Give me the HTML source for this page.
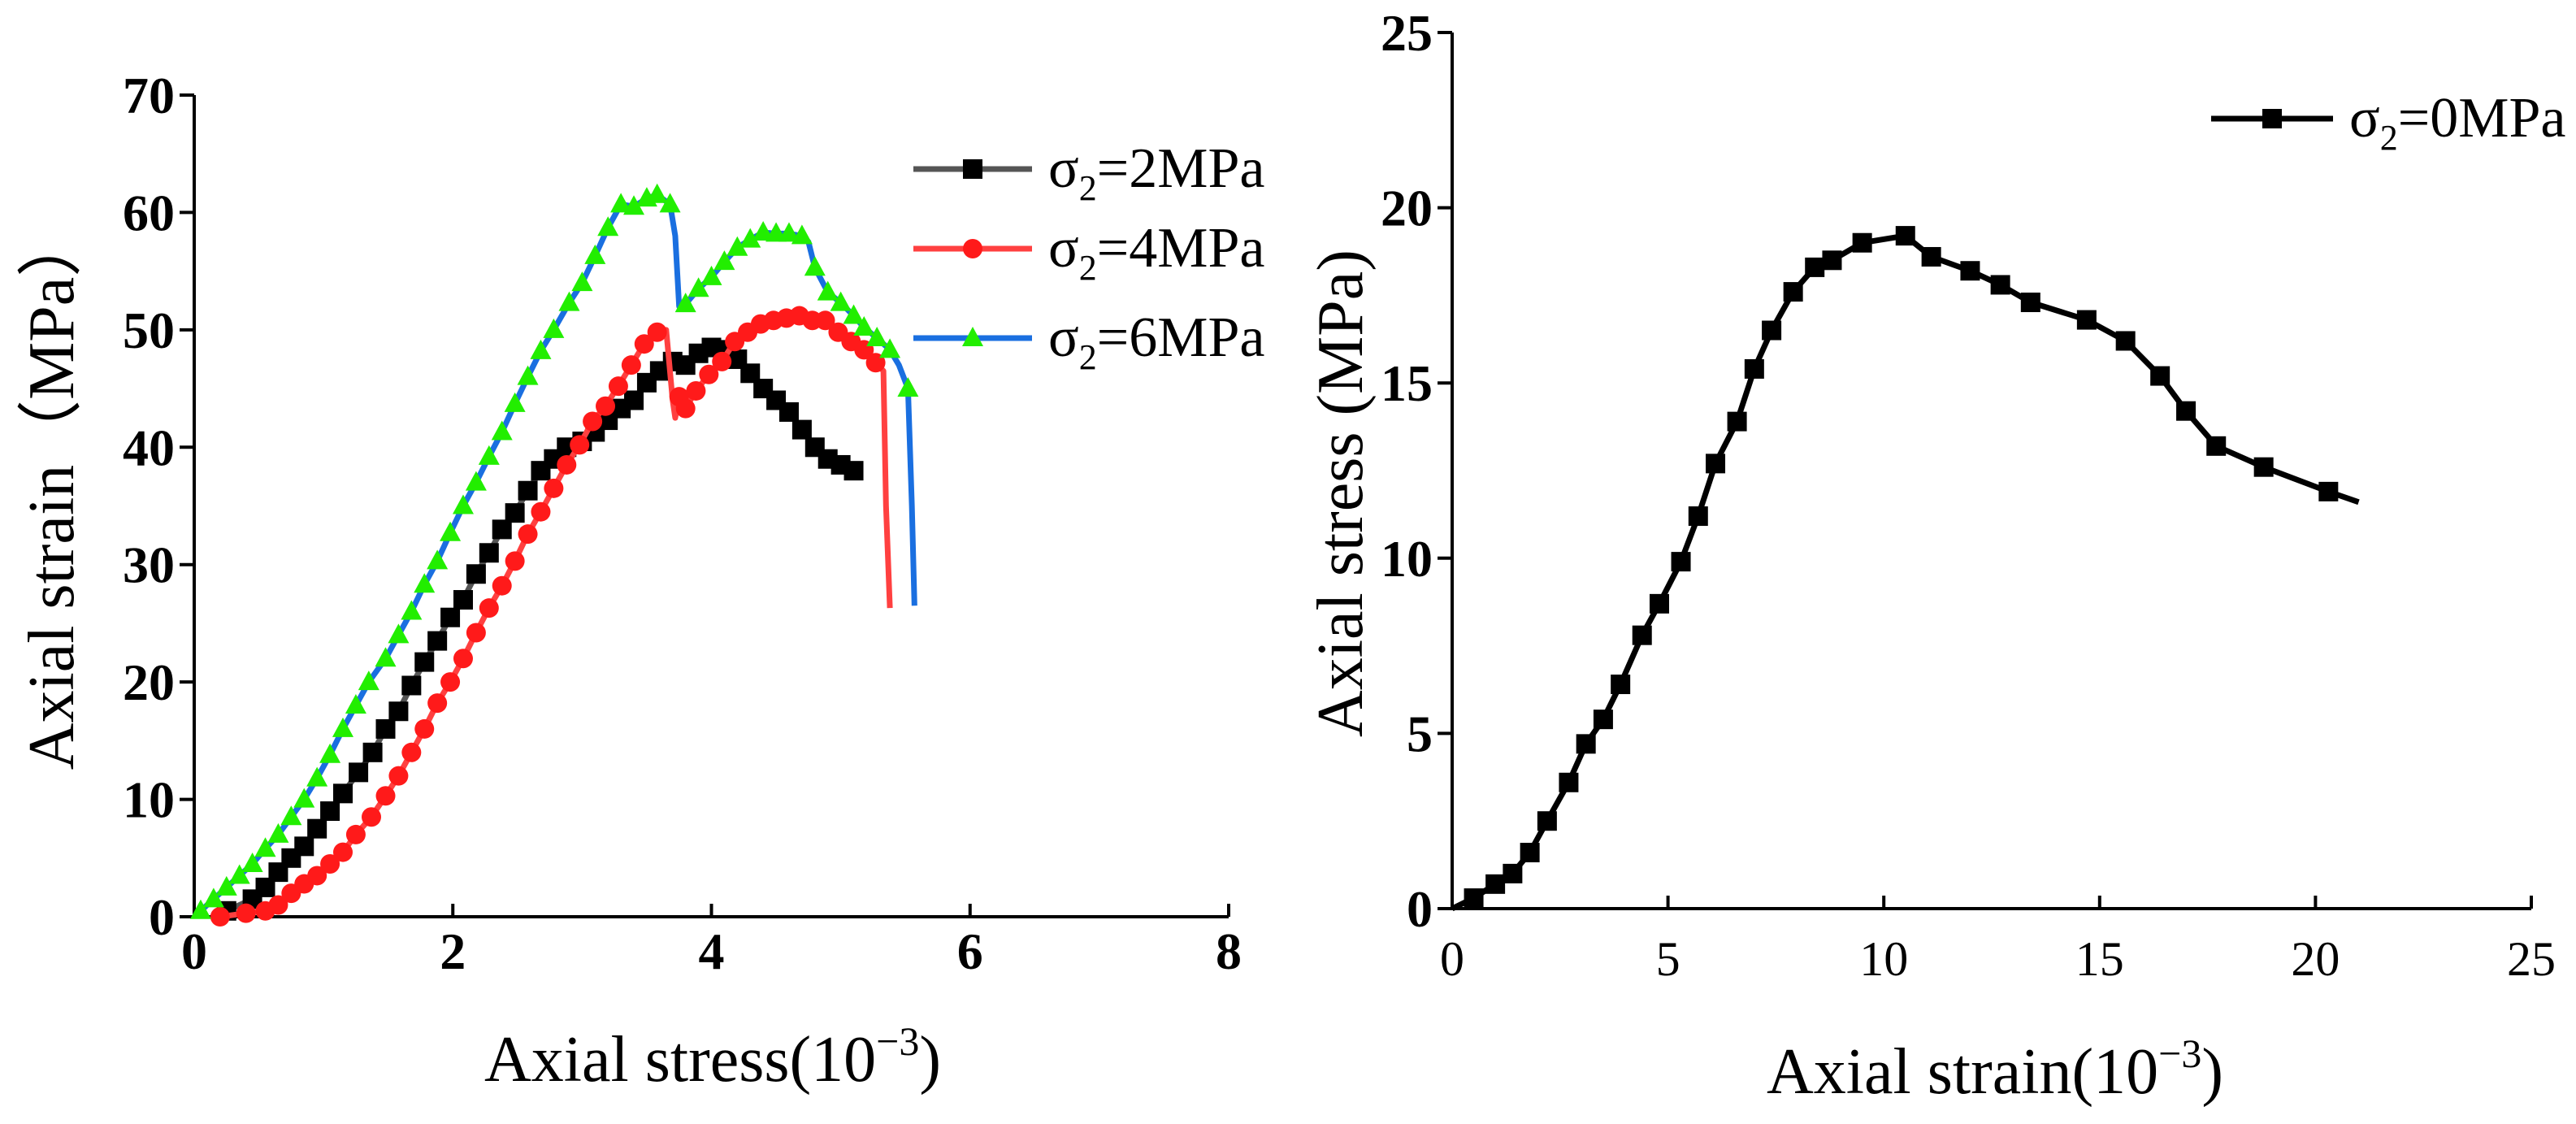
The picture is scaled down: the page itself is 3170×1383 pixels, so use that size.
<!DOCTYPE html>
<html><head><meta charset="utf-8"><style>
html,body{margin:0;padding:0;background:#fff;overflow:hidden;}
svg{display:block;font-family:"Liberation Serif",serif;}
.tick{font-size:64px;font-weight:bold;}
.tickn{font-size:60px;}
.title{font-size:80px;}
.leg{font-size:70px;}
</style></head><body>
<svg id="chart" width="3170" height="1383" viewBox="0 0 3170 1383"></svg>
<script>
// ----- Left chart data -----
const s2x = [0.25,0.45,0.55,0.65,0.75,0.85,0.95,1.05,1.15,1.27,1.38,1.48,1.58,1.68,1.78,1.88,1.98,2.08,2.18,2.28,2.38,2.48,2.58,2.68,2.78,2.88,3.0,3.1,3.2,3.3,3.4,3.5,3.6,3.7,3.8,3.9,4.0,4.1,4.2,4.3,4.4,4.5,4.6,4.7,4.8,4.9,5.0,5.1];
const s2y = [0.5,1.5,2.5,3.8,5,6,7.5,9,10.5,12.3,14,16,17.5,19.7,21.7,23.5,25.5,27,29.2,31,33,34.4,36.3,38,39,40,40.5,41.3,42.3,43.3,44,45.5,46.5,47.3,47,48,48.5,48.3,47.5,46.3,45,44,43,41.5,40,39,38.5,38];
const s4x = [0.2,0.4,0.55,0.65,0.75,0.85,0.95,1.05,1.15,1.25,1.37,1.48,1.58,1.68,1.78,1.88,1.98,2.08,2.18,2.28,2.38,2.48,2.58,2.68,2.78,2.88,2.98,3.08,3.18,3.28,3.38,3.48,3.58,3.65,3.7,3.72,3.75,3.8,3.88,3.98,4.08,4.18,4.28,4.38,4.48,4.58,4.68,4.78,4.88,4.98,5.08,5.18,5.27,5.33,5.35,5.38];
const s4y = [0,0.3,0.5,1,2,2.8,3.5,4.5,5.5,7,8.5,10.3,12,14,16,18.2,20,22,24.2,26.3,28.2,30.3,32.6,34.5,36.5,38.5,40.2,42.2,43.5,45.2,47,48.8,49.8,50,44,42.5,44.3,43.3,44.8,46.2,47.3,49,49.8,50.5,50.8,51,51.2,50.8,50.8,49.8,49,48.3,47.2,46.5,35,26.3];
const s4m = [1,1,1,1,1,1,1,1,1,1,1,1,1,1,1,1,1,1,1,1,1,1,1,1,1,1,1,1,1,1,1,1,1,0,0,0,1,1,1,1,1,1,1,1,1,1,1,1,1,1,1,1,1,0,0,0];
const s6x = [0.05,0.15,0.25,0.35,0.45,0.55,0.65,0.75,0.85,0.95,1.05,1.15,1.25,1.35,1.48,1.58,1.68,1.78,1.88,1.98,2.08,2.18,2.28,2.38,2.48,2.58,2.68,2.78,2.9,3.0,3.1,3.2,3.3,3.4,3.5,3.58,3.68,3.72,3.75,3.8,3.9,4.0,4.1,4.2,4.3,4.4,4.5,4.6,4.7,4.75,4.8,4.9,5.0,5.1,5.18,5.28,5.38,5.45,5.52,5.55,5.57];
const s6y = [0.5,1.5,2.5,3.5,4.5,5.8,7,8.5,10,11.8,13.8,16,18,20,22,24,26,28.3,30.3,32.7,35,37,39.2,41.3,43.7,46,48.2,50,52.3,54,56.3,58.7,60.7,60.5,61.2,61.5,60.7,58,52,52.2,53.5,54.5,55.8,57,57.7,58.3,58.2,58.2,58,57.5,55.3,53.2,52.3,51.2,50.2,49.3,48.3,47,45,35,26.5];
const s6m = [1,1,1,1,1,1,1,1,1,1,1,1,1,1,1,1,1,1,1,1,1,1,1,1,1,1,1,1,1,1,1,1,1,1,1,1,1,0,0,1,1,1,1,1,1,1,1,1,1,0,1,1,1,1,1,1,1,0,1,0,0];
const leftXTicks = [0,2,4,6,8];
const leftYTicks = [0,10,20,30,40,50,60,70];
// ----- Right chart data -----
const s0x = [0,0.5,1.0,1.4,1.8,2.2,2.7,3.1,3.5,3.9,4.4,4.8,5.3,5.7,6.1,6.6,7.0,7.4,7.9,8.4,8.8,9.5,10.5,11.1,12.0,12.7,13.4,14.7,15.6,16.4,17.0,17.7,18.8,20.3,21.0];
const s0y = [0,0.3,0.7,1,1.6,2.5,3.6,4.7,5.4,6.4,7.8,8.7,9.9,11.2,12.7,13.9,15.4,16.5,17.6,18.3,18.5,19,19.2,18.6,18.2,17.8,17.3,16.8,16.2,15.2,14.2,13.2,12.6,11.9,11.6];
const s0m = [0,1,1,1,1,1,1,1,1,1,1,1,1,1,1,1,1,1,1,1,1,1,1,1,1,1,1,1,1,1,1,1,1,1,0];
const rightXTicks = [0,5,10,15,20,25];
const rightYTicks = [0,5,10,15,20,25];

const NS = "http://www.w3.org/2000/svg";
const svg = document.getElementById('chart');
function mk(tag, attrs, parent){const e=document.createElementNS(NS,tag);for(const k in attrs)e.setAttribute(k,attrs[k]);(parent||svg).appendChild(e);return e;}

const L = {x0:239,y0:1128,xmax:8,ymax:70,w:1273,h:1011,xlab:1192,xcls:'tick'};
const R = {x0:1787,y0:1118,xmax:25,ymax:25,w:1328,h:1078,xlab:1200,xcls:'tickn'};
function ax(c,v){return c.x0+v/c.xmax*c.w;}
function ay(c,v){return c.y0-v/c.ymax*c.h;}

function drawAxes(c, xt, yt, name){
  const g = mk('g',{});
  
  
  mk('line',{x1:c.x0,y1:c.y0,x2:c.x0+c.w,y2:c.y0,stroke:'#000','stroke-width':4},g);
  mk('line',{x1:c.x0,y1:c.y0,x2:c.x0,y2:c.y0-c.h,stroke:'#000','stroke-width':4},g);
  xt.forEach(v=>{
    const x=ax(c,v);
    mk('line',{x1:x,y1:c.y0,x2:x,y2:c.y0-16,stroke:'#000','stroke-width':4},g);
    const t=mk('text',{x:x,y:c.xlab,'text-anchor':'middle',class:c.xcls},g);
    
    
    t.textContent=v;
  });
  yt.forEach(v=>{
    const y=ay(c,v);
    mk('line',{x1:c.x0-18,y1:y,x2:c.x0,y2:y,stroke:'#000','stroke-width':4},g);
    const t=mk('text',{x:c.x0-24,y:y+22,'text-anchor':'end',class:'tick'},g);
    
    
    t.textContent=v;
  });
}
function marker(type,x,y,fill,g){
  if(type==='sq') return mk('rect',{x:x-12,y:y-12,width:24,height:24,fill:fill},g);
  if(type==='ci') return mk('circle',{cx:x,cy:y,r:12,fill:fill},g);
  return mk('polygon',{points:`${x},${y-14} ${x-13},${y+10} ${x+13},${y+10}`,fill:fill},g);
}
function drawSeries(c,xs,ys,ms,lineCol,mType,mCol,name){
  const g=mk('g',{});
  
  
  const pts=xs.map((v,i)=>ax(c,v)+','+ay(c,ys[i])).join(' ');
  mk('polyline',{points:pts,fill:'none',stroke:lineCol,'stroke-width':7,'stroke-linejoin':'round'},g);
  xs.forEach((v,i)=>{ if(!ms || ms[i]) { const m=marker(mType,ax(c,v),ay(c,ys[i]),mCol,g);
    
     }});
}

drawAxes(L,leftXTicks,leftYTicks,'left');
drawAxes(R,rightXTicks,rightYTicks,'right');

drawSeries(L,s2x,s2y,null,'#555','sq','#000','series-2mpa');
drawSeries(L,s4x,s4y,s4m,'#ff4040','ci','#ff1a1a','series-4mpa');
drawSeries(L,s6x,s6y,s6m,'#1a6fe0','tr','#22ee00','series-6mpa');
drawSeries(R,s0x,s0y,s0m,'#000','sq','#000','series-0mpa');

function legend(x1,x2,y,lc,mt,mc,label,name){
  const g=mk('g',{});
  
  
  mk('line',{x1:x1,y1:y,x2:x2,y2:y,stroke:lc,'stroke-width':7},g);
  marker(mt,(x1+x2)/2,y,mc,g);
  const t=mk('text',{x:x2+20,y:y+22,class:'leg'},g);
  t.innerHTML='σ<tspan font-size="44" dy="16">2</tspan><tspan dy="-16">='+label+'</tspan>';
}
legend(1124,1270,208,'#555','sq','#000','2MPa','legend-2mpa');
legend(1124,1270,306,'#ff4040','ci','#ff1a1a','4MPa','legend-4mpa');
legend(1124,1270,416,'#1a6fe0','tr','#22ee00','6MPa','legend-6mpa');
legend(2721,2871,146,'#000','sq','#000','0MPa','legend-0mpa');

function title(x,y,rot,html,name,fs){
  const t=mk('text',{x:x,y:y,'text-anchor':'middle',class:'title',transform:rot?`rotate(-90 ${x} ${y})`:''});
  if(fs) t.setAttribute('font-size',fs);
  
  
  t.innerHTML=html;
}
title(877,1330,false,'Axial stress(10<tspan font-size="50" dy="-32">−3</tspan><tspan dy="32">)</tspan>','left-x-axis-title');
title(90,604,true,'Axial strain（MPa）','left-y-axis-title');
title(2455,1345,false,'Axial strain(10<tspan font-size="50" dy="-32">−3</tspan><tspan dy="32">)</tspan>','right-x-axis-title');
title(1676,607,true,'Axial stress (MPa)','right-y-axis-title');
</script>
</body></html>
